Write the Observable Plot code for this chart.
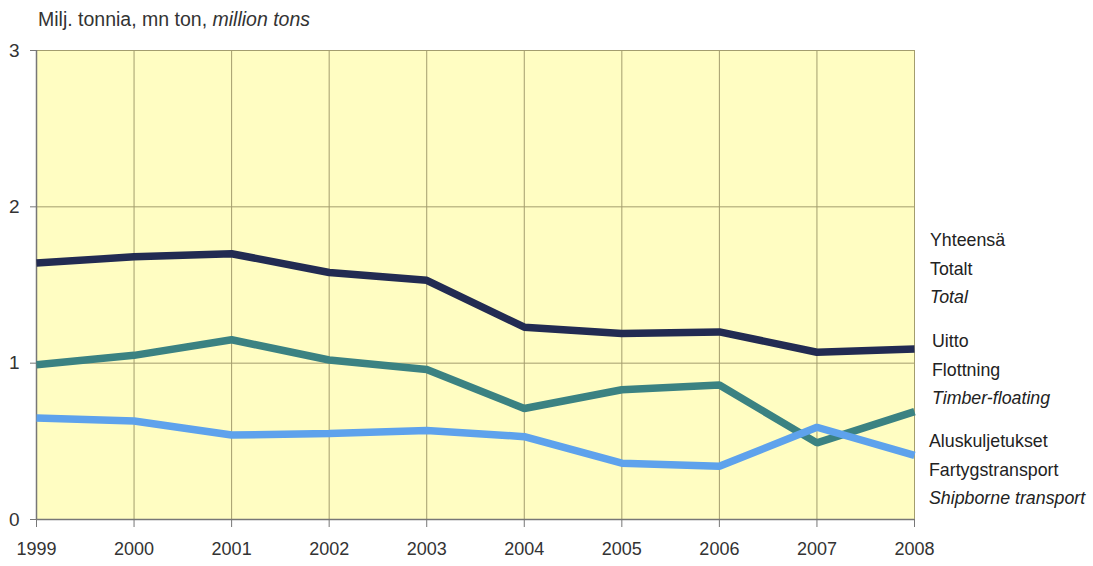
<!DOCTYPE html>
<html>
<head>
<meta charset="utf-8">
<script src="https://cdn.jsdelivr.net/npm/d3@7"></script>
<script src="https://cdn.jsdelivr.net/npm/@observablehq/plot@0.6"></script>
<style>
  body { margin: 0; background: #fff; font-family: "Liberation Sans", Arial, sans-serif; }
  #wrap { position: relative; width: 1093px; height: 566px; }
  #title { position: absolute; left: 38px; top: 8px; font-size: 19.5px; color: #333; white-space: nowrap; }
  .leg { position: absolute; font-size: 17.8px; color: #222; line-height: 28.5px; white-space: nowrap; }
  .leg i { font-style: italic; }
</style>
</head>
<body>
<div id="wrap">
  <div id="title">Milj. tonnia, mn ton, <i>million tons</i></div>
  <div id="chart"></div>
  <div class="leg" style="left:930px; top:226px;">Yhteensä<br>Totalt<br><i>Total</i></div>
  <div class="leg" style="left:932px; top:327px;">Uitto<br>Flottning<br><i>Timber-floating</i></div>
  <div class="leg" style="left:929px; top:427px;">Aluskuljetukset<br>Fartygstransport<br><i>Shipborne transport</i></div>
</div>
<script>
const years = [1999, 2000, 2001, 2002, 2003, 2004, 2005, 2006, 2007, 2008];
const total = [1.64, 1.68, 1.70, 1.58, 1.53, 1.23, 1.19, 1.20, 1.07, 1.09];
const floating = [0.99, 1.05, 1.15, 1.02, 0.96, 0.71, 0.83, 0.86, 0.49, 0.69];
const shipborne = [0.65, 0.63, 0.54, 0.55, 0.57, 0.53, 0.36, 0.34, 0.59, 0.41];
const yTicks = [0, 1, 2, 3];

const seriesNames = ["Total", "Timber-floating", "Shipborne transport"];
const seriesColors = ["#222b52", "#3b8282", "#5ea2ec"];
const seriesValues = [total, floating, shipborne];
const data = seriesNames.flatMap((s, i) => years.map((yr, j) => ({series: s, year: yr, value: seriesValues[i][j]})));

const font = "'Liberation Sans', Arial, sans-serif";
const chart = Plot.plot({
  width: 1093,
  height: 566,
  marginTop: 50,
  marginBottom: 47,
  marginLeft: 36,
  marginRight: 179,
  style: { fontFamily: font, fontSize: "18px", color: "#333", background: "transparent", overflow: "visible" },
  x: { domain: [1999, 2008], label: null },
  y: { domain: [0, 3], label: null },
  color: { domain: seriesNames, range: seriesColors },
  marks: [
    Plot.frame({ fill: "#fffdc2", stroke: null }),
    Plot.ruleX(years, { stroke: "#a39d6e", strokeWidth: 1 }),
    Plot.ruleY(yTicks, { stroke: "#a39d6e", strokeWidth: 1 }),
    Plot.ruleY([0], { stroke: "#777", strokeWidth: 1.5 }),
    Plot.ruleX([1999], { stroke: "#777", strokeWidth: 1.5 }),
    Plot.axisX({ ticks: years, tickFormat: "d", tickSize: 8, tickPadding: 15, stroke: "#777", fill: "#333", fontSize: 18, fontFamily: font }),
    Plot.axisY({ ticks: yTicks, tickFormat: "d", tickSize: 6, tickPadding: 11, stroke: "#777", fill: "#333", fontSize: 19, fontFamily: font }),
    Plot.line(data, { x: "year", y: "value", z: "series", stroke: "series", strokeWidth: 7.5, strokeLinejoin: "miter", strokeLinecap: "butt" })
  ]
});
document.getElementById("chart").appendChild(chart);
</script>
</body>
</html>
